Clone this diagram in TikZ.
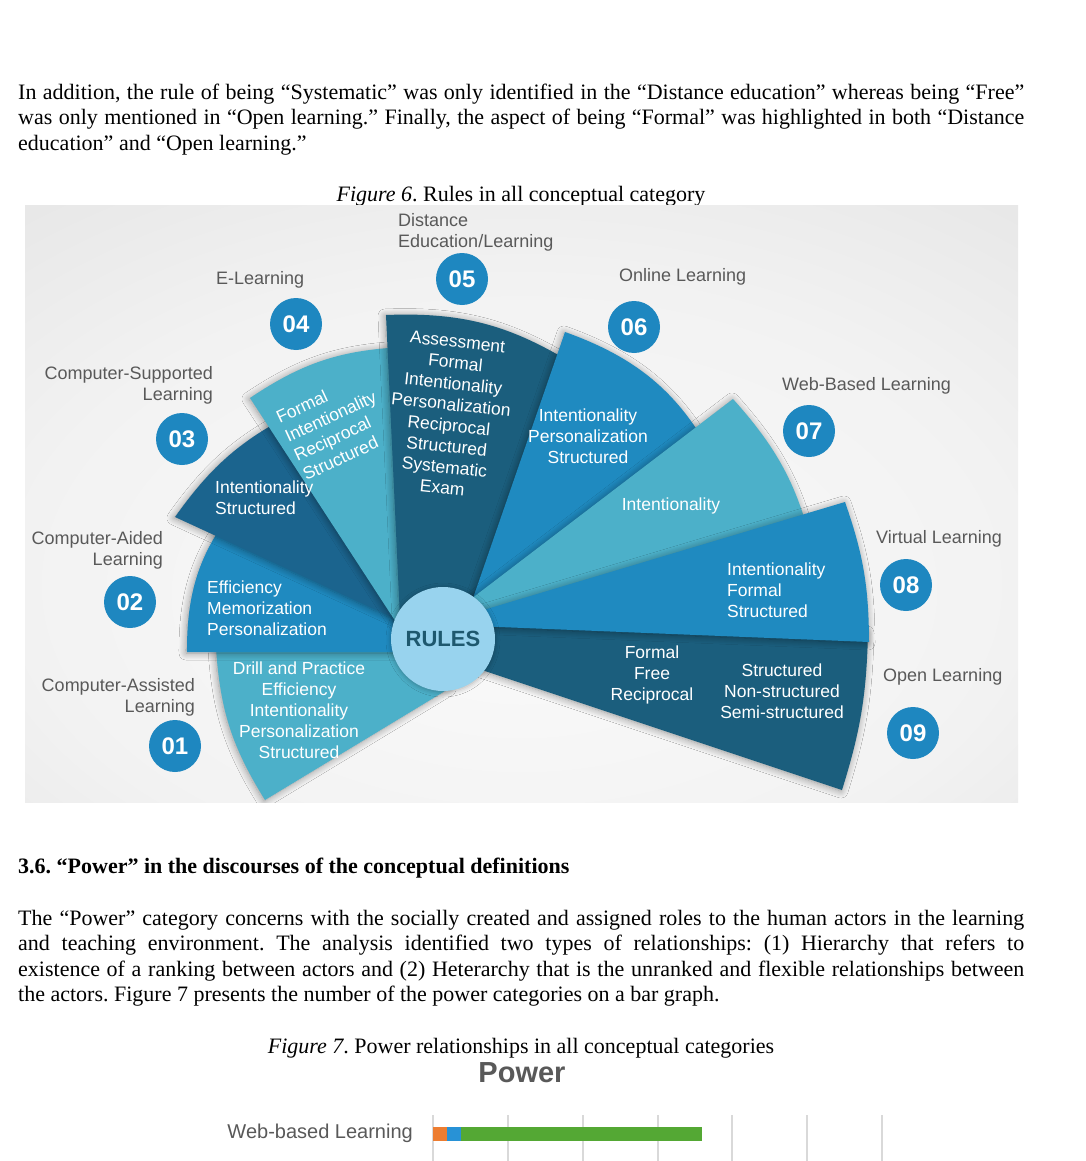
\documentclass[tikz,border=0pt]{standalone}
\usepackage{fontspec}
\setmainfont{Liberation Serif}
\newfontfamily\arial{Liberation Sans}
\usetikzlibrary{shadows.blur}
\frenchspacing
\definecolor{navyA}{RGB}{27,94,125}
\definecolor{navyB}{RGB}{27,100,142}
\definecolor{midblue}{RGB}{31,138,192}
\definecolor{lightblue}{RGB}{76,176,201}
\definecolor{rulesfill}{RGB}{152,211,238}
\definecolor{rulestext}{RGB}{30,88,110}
\definecolor{numblue}{RGB}{30,135,192}
\definecolor{labelgray}{RGB}{89,89,89}
\definecolor{gridgray}{RGB}{217,217,217}
\definecolor{barorange}{RGB}{237,125,49}
\definecolor{barblue}{RGB}{40,146,214}
\definecolor{bargreen}{RGB}{84,168,52}
\pgfdeclareradialshading{figbg}{\pgfpoint{0bp}{-10bp}}{color(0bp)=(white!98!black); color(25bp)=(white!95!black); color(45bp)=(white!89!black); color(75bp)=(white!80!black)}
\begin{document}
\begin{tikzpicture}[x=1pt,y=1pt,
  body/.style={font=\fontsize{22}{26}\selectfont, inner sep=0pt, anchor=base west},
  lab/.style={font=\arial\fontsize{18}{21}\selectfont, text=labelgray, inner sep=0pt},
  sectxt/.style={font=\arial\fontsize{17.5}{21}\selectfont, text=white, inner sep=0pt},
  numc/.style={circle, fill=numblue, minimum size=52pt, inner sep=0pt, text=white, font=\arial\bfseries\fontsize{24}{24}\selectfont},
  blade/.style={blur shadow={shadow xshift=-1pt, shadow yshift=-1pt, shadow blur radius=7pt, shadow blur steps=10, shadow opacity=40}}]
\useasboundingbox (0,0) rectangle (1086,-1161);
\fill[white] (0,0) rectangle (1086,-1161);

% paragraph 1
\node[body] (p1a) at (18,-99.5) {\makebox[1006pt][s]{In addition, the rule of being “Systematic” was only identified in the “Distance education” whereas being “Free”}};
\node[body] (p1b) at (18,-125) {\makebox[1006pt][s]{was only mentioned in “Open learning.” Finally, the aspect of being “Formal” was highlighted in both “Distance}};
\node[body] (p1c) at (18,-150.5) {education” and “Open learning.”};

\node[body, anchor=base] (cap6) at (521,-201) {\textit{Figure 6}. Rules in all conceptual category};

% figure background
\shade[shading=figbg] (25,-205) rectangle (1018,-802);

% blades
\begin{scope}
\clip (25,-205) rectangle (1018,-802);
\fill[navyA, blade] (440,-615) -- (868,-632) to[bend left=8] (842,-790) -- (455,-661) -- cycle;   % 09
\fill[lightblue, blade] (450,-688) -- (265,-800) to[bend left=14] (216,-648) -- (430,-645) -- cycle; % 01
\fill[midblue, blade] (430,-652) -- (187,-652) to[bend left=21] (246,-495) -- (415,-615) -- cycle; % 02
\fill[navyB, blade] (420,-630) -- (175,-517) to[bend left=14] (300,-410) -- (430,-615) -- cycle;   % 03
\fill[lightblue, blade] (405,-636) -- (250,-398) to[bend left=15.5] (404,-347) -- (425,-620) -- cycle; % 04
\fill[navyA, blade] (401,-640) -- (386,-315) to[bend left=17] (575,-365) -- (480,-600) -- cycle;   % 05
\fill[midblue, blade] (462,-630) -- (565,-332) to[bend left=22] (720,-470) -- (485,-625) -- cycle; % 06
\fill[lightblue, blade] (450,-615) -- (733,-399) to[bend left=15] (815,-560) -- (470,-622) -- cycle; % 07
\fill[midblue, blade] (440,-623) -- (845,-502) to[bend left=9.5] (869,-642) -- (450,-625) -- cycle; % 08
\end{scope}

\node[circle, fill=rulesfill, minimum size=104pt, inner sep=0pt, text=rulestext, font=\arial\bfseries\fontsize{22}{22}\selectfont, blur shadow={shadow xshift=0pt, shadow yshift=-1pt, shadow blur radius=5pt, shadow opacity=30}] (rules) at (443,-639) {RULES};

% blade texts
\node[sectxt, align=center] (t01) at (299,-710) {Drill and Practice\\Efficiency\\Intentionality\\Personalization\\Structured};
\node[sectxt, align=left, anchor=west] (t02) at (207,-608) {Efficiency\\Memorization\\Personalization};
\node[sectxt, align=left, anchor=west] (t03) at (215,-498) {Intentionality\\Structured};
\node[sectxt, align=left, rotate=25] (t04) at (335,-426) {Formal\\Intentionality\\Reciprocal\\Structured};
\node[sectxt, align=center, rotate=-6] (t05) at (450,-415) {Assessment\\Formal\\Intentionality\\Personalization\\Reciprocal\\Structured\\Systematic\\Exam};
\node[sectxt, align=center] (t06) at (588,-436) {Intentionality\\Personalization\\Structured};
\node[sectxt] (t07) at (671,-506) {Intentionality};
\node[sectxt, align=left, anchor=west] (t08) at (727,-590) {Intentionality\\Formal\\Structured};
\node[sectxt, align=center] (t09a) at (652,-675) {Formal\\Free\\Reciprocal};
\node[sectxt, align=center] (t09b) at (782,-691) {Structured\\Non-structured\\Semi-structured};

% category labels
\node[lab, align=left, anchor=west] (l05) at (398,-232) {Distance\\Education/Learning};
\node[lab, anchor=west] (l04) at (216,-280) {E-Learning};
\node[lab, anchor=west] (l06) at (619,-277) {Online Learning};
\node[lab, align=right, anchor=east] (l03) at (213,-385) {Computer-Supported\\Learning};
\node[lab, anchor=west] (l07) at (782,-386) {Web-Based Learning};
\node[lab, align=right, anchor=east] (l02) at (163,-550) {Computer-Aided\\Learning};
\node[lab, anchor=west] (l08) at (876,-539) {Virtual Learning};
\node[lab, align=right, anchor=east] (l01) at (195,-697) {Computer-Assisted\\Learning};
\node[lab, anchor=west] (l09) at (883,-677) {Open Learning};

% number badges
\node[numc] (n01) at (175,-746) {01};
\node[numc] (n02) at (130,-602) {02};
\node[numc] (n03) at (182,-439) {03};
\node[numc] (n04) at (296,-324) {04};
\node[numc] (n05) at (462,-279) {05};
\node[numc] (n06) at (634,-327) {06};
\node[numc] (n07) at (809,-431) {07};
\node[numc] (n08) at (906,-585) {08};
\node[numc] (n09) at (913,-733) {09};

% section 3.6
\node[body] (h36) at (18,-873) {\textbf{3.6. “Power” in the discourses of the conceptual definitions}};
\node[body] (p2a) at (18,-925) {\makebox[1006pt][s]{The “Power” category concerns with the socially created and assigned roles to the human actors in the learning}};
\node[body] (p2b) at (18,-950.5) {\makebox[1006pt][s]{and teaching environment. The analysis identified two types of relationships: (1) Hierarchy that refers to}};
\node[body] (p2c) at (18,-976) {\makebox[1006pt][s]{existence of a ranking between actors and (2) Heterarchy that is the unranked and flexible relationships between}};
\node[body] (p2d) at (18,-1001.5) {the actors. Figure 7 presents the number of the power categories on a bar graph.};

\node[body, anchor=base] (cap7) at (521,-1053) {\textit{Figure 7}. Power relationships in all conceptual categories};

% bar chart
\node[inner sep=0pt, text=labelgray, font=\arial\bfseries\fontsize{29}{29}\selectfont] (powt) at (522,-1073) {Power};
\foreach \gx in {433,508,583,658,732,807,882}
  \draw[gridgray, line width=1.2pt] (\gx,-1115) -- (\gx,-1161);
\node[inner sep=0pt, text=labelgray, anchor=east, font=\arial\fontsize{20}{20}\selectfont] (cwb) at (413,-1133) {Web-based Learning};
\fill[barorange] (433,-1127) rectangle (447,-1141);
\fill[barblue] (447,-1127) rectangle (461,-1141);
\fill[bargreen] (461,-1127) rectangle (702,-1141);
\end{tikzpicture}
\end{document}
